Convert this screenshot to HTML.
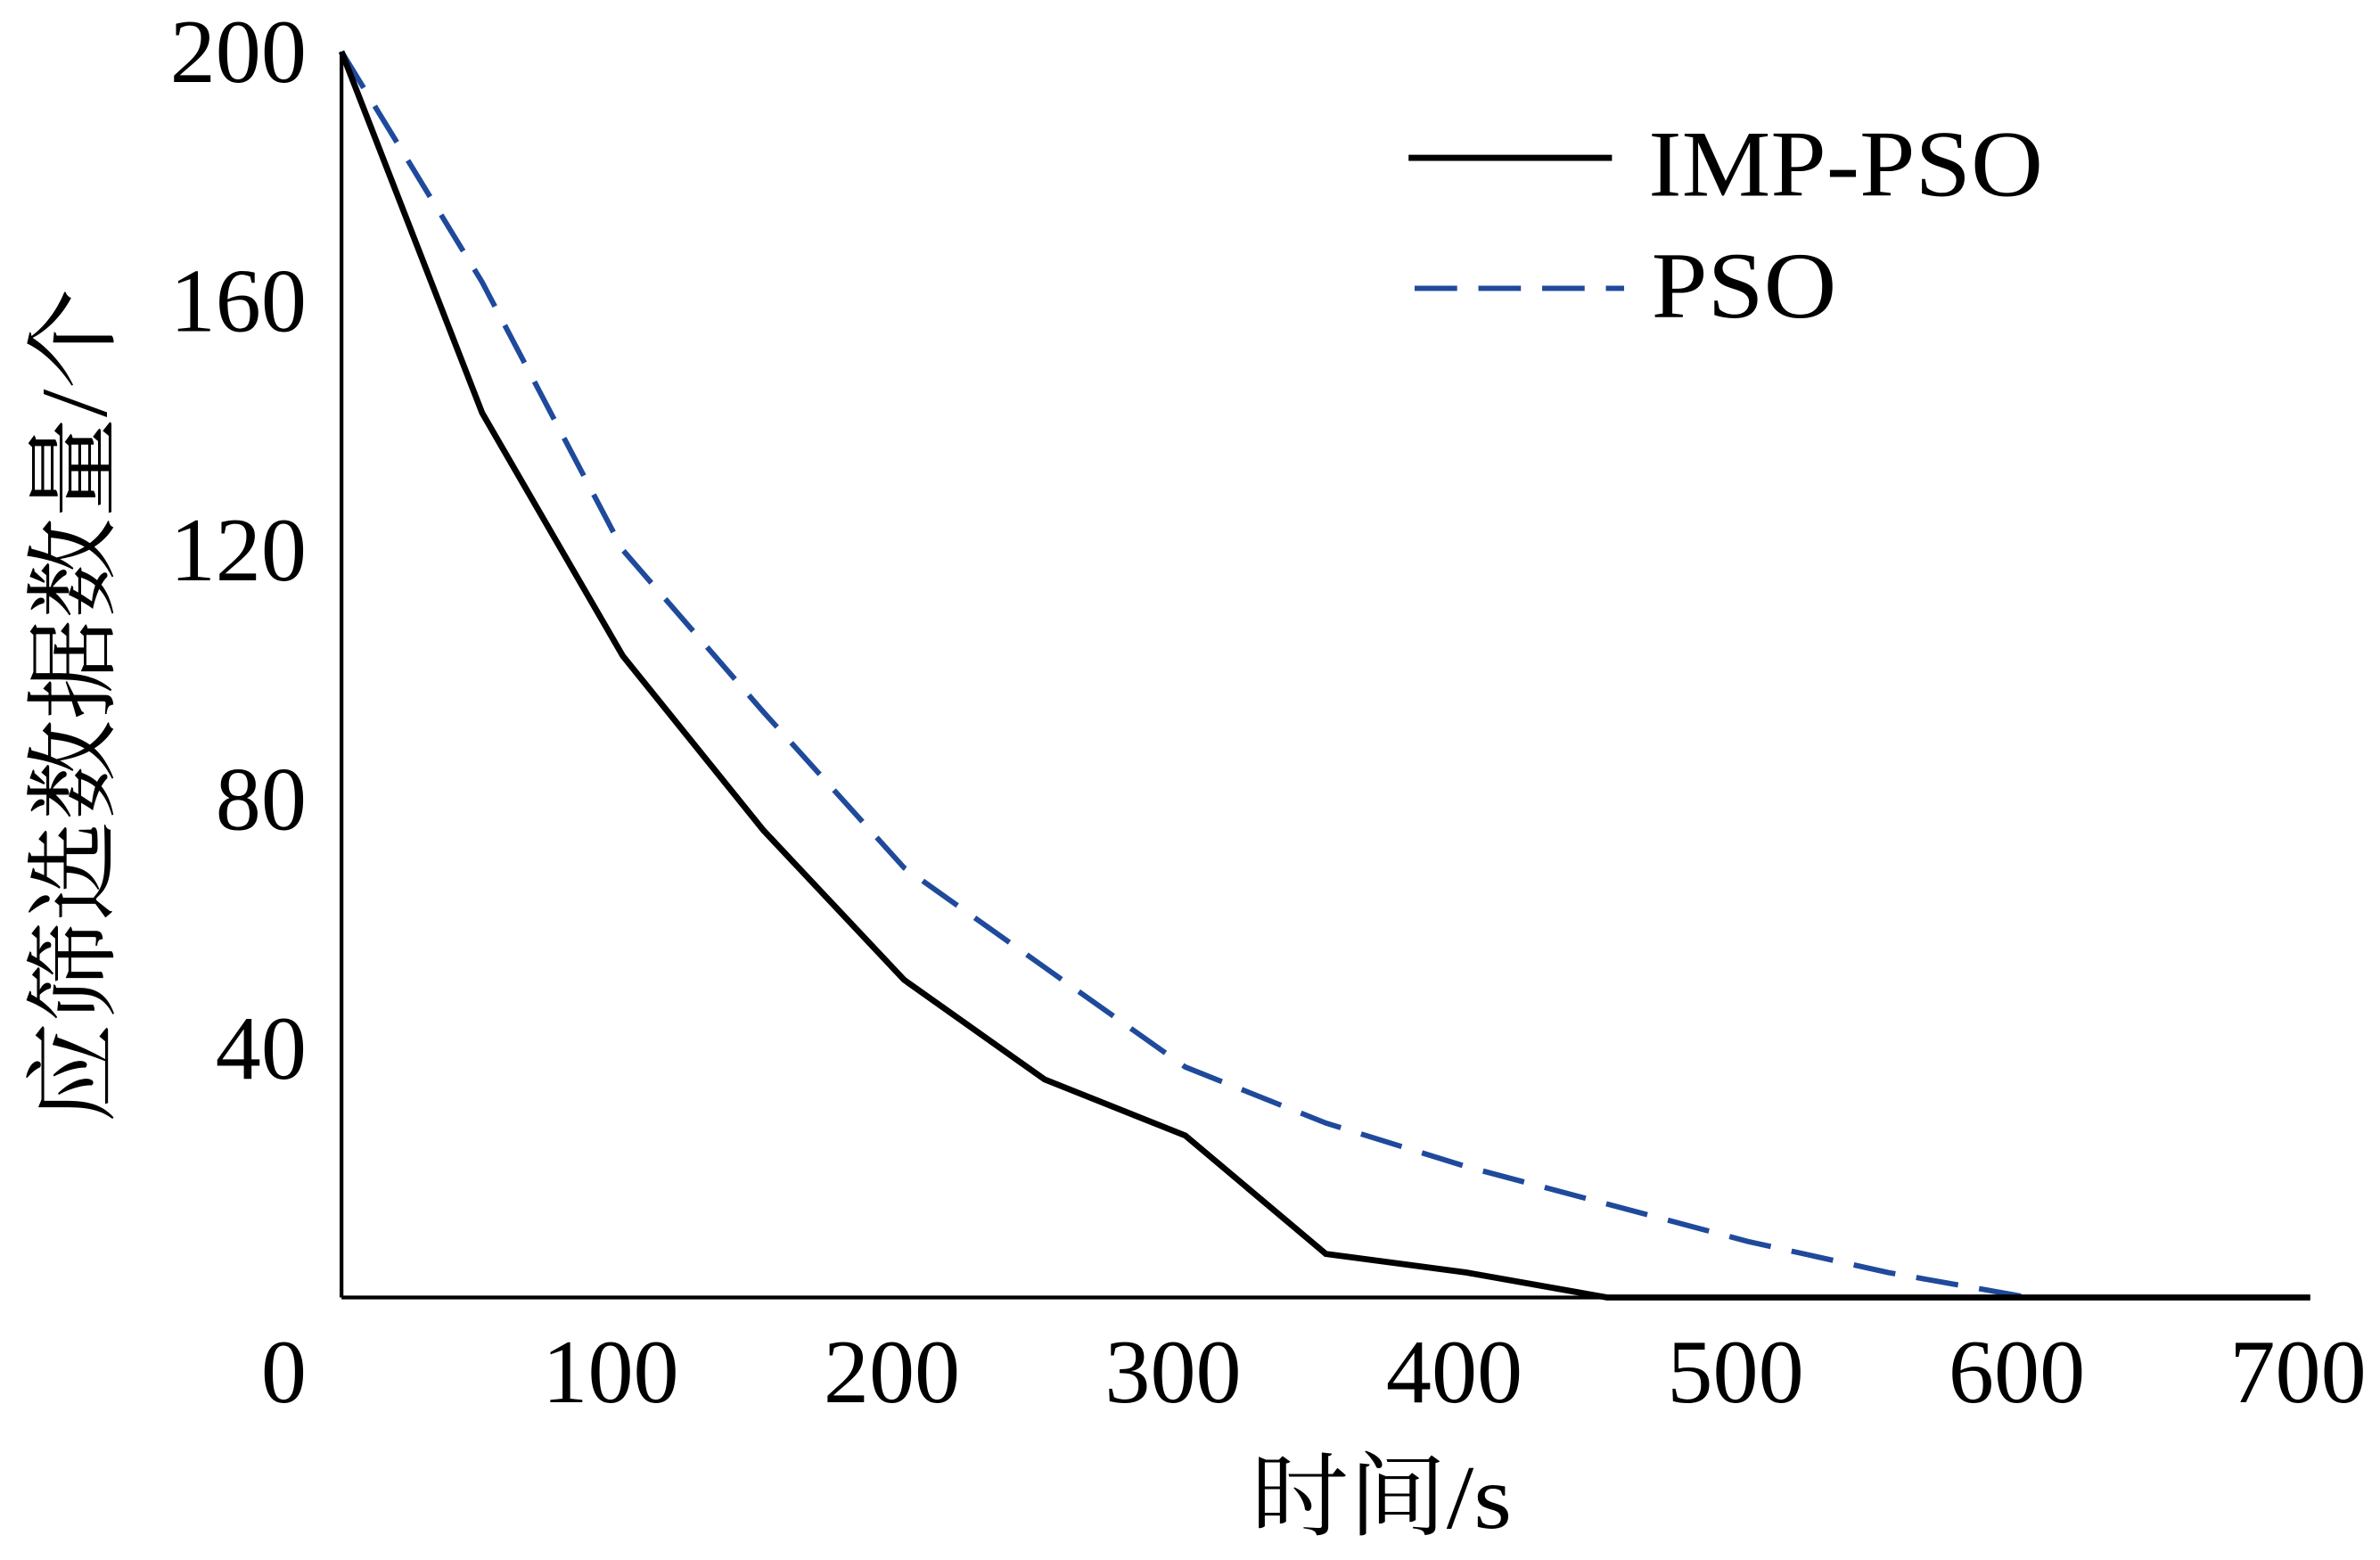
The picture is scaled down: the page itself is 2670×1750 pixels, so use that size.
<!DOCTYPE html>
<html><head><meta charset="utf-8"><style>
html,body{margin:0;padding:0;background:#fff;}
svg{display:block;}
text{font-family:"Liberation Serif","Noto Serif CJK SC",serif;fill:#000;}
</style></head><body>
<svg id="chart" width="2670" height="1750" viewBox="0 0 1568 1028" preserveAspectRatio="none" xmlns="http://www.w3.org/2000/svg">
<g id="axes"></g>
<g id="series"></g>
<g id="legend">
  <line x1="928" y1="104" x2="1062" y2="104" stroke="#000" stroke-width="4"/>
  <text x="1086" y="129" font-size="62" textLength="260" lengthAdjust="spacingAndGlyphs">IMP-PSO</text>
  <line x1="932" y1="190" x2="1070" y2="190" stroke="#1f4a9c" stroke-width="3.5" stroke-dasharray="28,14"/>
  <text x="1088" y="209" font-size="62" textLength="122" lengthAdjust="spacingAndGlyphs">PSO</text>
</g>
<text x="910" y="1007" font-size="60" text-anchor="middle" textLength="172" lengthAdjust="spacingAndGlyphs">时间/s</text>
<text transform="translate(70,465) rotate(-90)" font-size="62" text-anchor="middle" textLength="550" lengthAdjust="spacingAndGlyphs">应筛选数据数量/个</text>
</svg>
<script>
const xValues = [0,50,100,150,200,250,300,350,400,450,500,550,600,650,700];
const impPso = [200,142,103,75,51,35,26,7,4,0,0,0,0,0,0];
const pso = [200,163,120,94,69,53,37,28,21,15,9,4,0,0,0];
const xTicks = [0,100,200,300,400,500,600,700];
const yTicks = [40,80,120,160,200];
const NS="http://www.w3.org/2000/svg";
const X0=225,X1=1522,Y0=855,Y1=34;
const sx=v=>X0+(X1-X0)*v/700;
const sy=v=>Y0-(Y0-Y1)*v/200;
const axes=document.getElementById('axes');
function mk(tag,attrs,parent){const e=document.createElementNS(NS,tag);for(const k in attrs)e.setAttribute(k,attrs[k]);parent.appendChild(e);return e;}
const ya=mk('line',{x1:X0,y1:Y1,x2:X0,y2:Y0,stroke:'#000','stroke-width':2.5},axes);


const xa=mk('line',{x1:X0,y1:Y0,x2:X1,y2:Y0,stroke:'#000','stroke-width':2.5},axes);


xTicks.forEach(v=>{
  const t=mk('text',{x:v===0?187:sx(v)-8,y:924,'font-size':60,'text-anchor':'middle'},axes);
  t.textContent=v;
  
  
});
yTicks.forEach(v=>{
  const t=mk('text',{x:202,y:sy(v)+20,'font-size':60,'text-anchor':'end'},axes);
  t.textContent=v;
  
  
});
const ser=document.getElementById('series');
function pts(arr){return arr.map((v,i)=>sx(xValues[i])+','+sy(v)).join(' ');}
const l2=mk('polyline',{points:pts(pso),fill:'none',stroke:'#1f4a9c','stroke-width':3.5,'stroke-dasharray':'28,14'},ser);


const l1=mk('polyline',{points:pts(impPso),fill:'none',stroke:'#000','stroke-width':4},ser);


</script>
</body></html>
